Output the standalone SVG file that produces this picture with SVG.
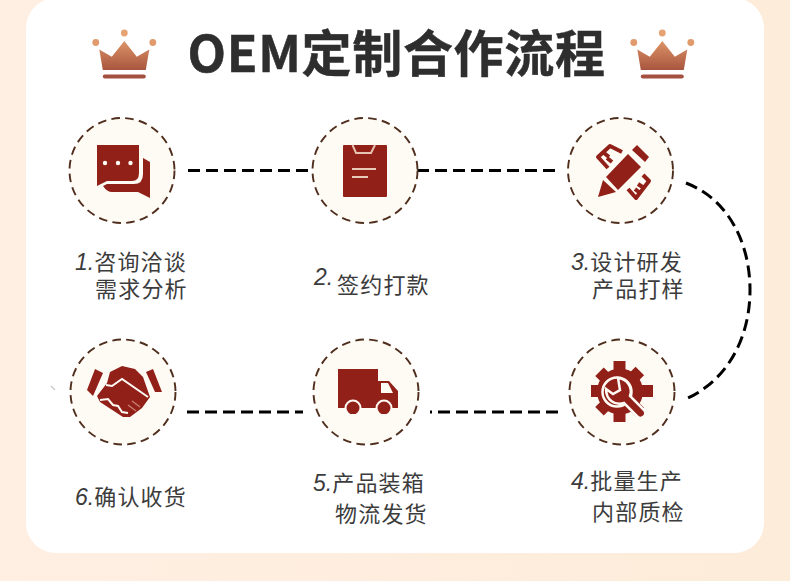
<svg xmlns="http://www.w3.org/2000/svg" width="790" height="581" viewBox="0 0 790 581">
<defs>
<linearGradient id="bg" x1="0" y1="0" x2="1" y2="0"><stop offset="0" stop-color="#ffefe3"/><stop offset="1" stop-color="#fdecd9"/></linearGradient>
<linearGradient id="cr" x1="0" y1="0" x2="0" y2="1"><stop offset="0" stop-color="#dd9467"/><stop offset="1" stop-color="#a8553f"/></linearGradient>
<clipPath id="truckclip"><rect x="330" y="360" width="75" height="54"/></clipPath>
<g id="crown">
<circle cx="0" cy="0" r="3.400" fill="#e5a273"/><circle cx="-28.500" cy="9.500" r="3.400" fill="#e09a6c"/><circle cx="28.500" cy="9.500" r="3.400" fill="#e09a6c"/>
<path d="M0 8 L12.500 23.700 L25 16.500 L21.500 37 H-21.500 L-25 16.500 L-12.500 23.700 Z" fill="url(#cr)"/>
<rect x="-21.500" y="41.500" width="43" height="4" rx="2" fill="#a44f3f"/>
</g>
</defs>
<style>
.c{fill:#fefbf5;stroke:#4f2e1d;stroke-width:1.900;stroke-dasharray:8.600 5.300}
.l{fill:none;stroke:#000;stroke-width:3;stroke-dasharray:12 6}
.i{fill:#912019}
.r{fill:none;stroke:#912019;stroke-width:4;stroke-linejoin:round}
.w{fill:none;stroke:#fefbf5;stroke-width:2}
.t{font-family:"Noto Sans CJK SC","Liberation Sans",sans-serif;font-size:22px;letter-spacing:1.200px;fill:#3c3c3c}
.n{font-family:"Liberation Sans",sans-serif;font-style:italic;font-size:23px;letter-spacing:0}
</style>
<rect width="790" height="581" fill="url(#bg)"/>
<rect x="26" y="-2" width="738" height="555" rx="30" fill="#fff"/>
<path d="M51 386L55 390" stroke="#c8c8c8" stroke-width="1.200"/>
<g id="title">
<use href="#crown" x="124.300" y="33"/>
<use href="#crown" x="662.300" y="33"/>
<text x="187.500" y="72" font-family="'Noto Sans CJK SC',sans-serif" font-weight="700" font-size="50px" letter-spacing="0.700" fill="#2e2e2e" stroke="#2e2e2e" stroke-width="0.500">OEM定制合作流程</text>
</g>
<g id="connectors">
<path class="l" d="M188 170.500H312"/>
<path class="l" d="M417 170.500H555"/>
<path class="l" d="M187 412H303"/>
<path class="l" d="M430 412H558" stroke-dashoffset="10"/>
<path class="l" d="M686 183C730 200 750 245 750 290C750 335 730 378 688 398"/>
</g>
<g id="node1">
<circle class="c" cx="122" cy="170.500" r="52.500"/>
<path class="i" d="M97 145H139V173Q139 181 132 181H107L97 186Z"/>
<path class="i" d="M143 158L150 162V198L138 192H112Q107 192 103 186L107 184H134Q143 184 143 174Z"/>
<g fill="#fefbf5"><circle cx="105" cy="163" r="2.200"/><circle cx="118" cy="163" r="2.200"/><circle cx="130.500" cy="163" r="2.200"/></g>
<text class="t" x="75" y="270"><tspan class="n">1.</tspan>咨询洽谈</text>
<text class="t" x="95" y="297">需求分析</text>
</g>
<g id="node2">
<circle class="c" cx="365" cy="170.500" r="52.500"/>
<rect class="i" x="343" y="145" width="44" height="52" rx="1"/>
<path d="M352.500 145L356 153H371L375 145" fill="none" stroke="#e6c2b2" stroke-width="2"/>
<path d="M352 169H376M352 177H368" stroke="#e8c9b8" stroke-width="2" fill="none"/>
<text class="t" x="314" y="285"><tspan class="n">2.</tspan></text>
<text class="t" x="337" y="293">签约打款</text>
</g>
<g id="node3">
<circle class="c" cx="620.500" cy="170.500" r="52.500"/>
<path class="r" d="M622 152L610 146L598 157L608 168M609 157L604 153M612 162L607 158"/>
<path class="r" d="M643 175L649 181L636 198L628 189M635 189L640 193M638 184L644 188"/>
<path class="i" d="M628 154L641 167L618 190L606 177Z"/>
<path class="i" d="M637 145L649 157L645 162L632 150Z"/>
<path class="i" d="M603 180L616 192L598 197Z"/>
<text class="t" x="571" y="270"><tspan class="n">3.</tspan>设计研发</text>
<text class="t" x="592" y="297">产品打样</text>
</g>
<g id="node4">
<circle class="c" cx="622" cy="392" r="52.500"/>
<g class="i">
<circle cx="620" cy="391.500" r="23"/>
<rect x="613.500" y="361" width="12" height="61"/>
<rect x="591" y="385" width="62" height="12"/>
<rect x="613.500" y="363" width="12" height="57" transform="rotate(45 620 391.500)"/>
<rect x="613.500" y="363" width="12" height="57" transform="rotate(-45 620 391.500)"/>
</g>
<circle cx="617" cy="392" r="14.500" fill="none" stroke="#fefbf5" stroke-width="2.500"/>
<path d="M618 378C627 379 633 387 630 396L644 410C648 415 641 421 637 416L624 403C615 406 606 400 606 389L613 394L620 390Z" class="i" stroke="#fefbf5" stroke-width="2.500"/>
<text class="t" x="571" y="489"><tspan class="n">4.</tspan>批量生产</text>
<text class="t" x="592" y="520">内部质检</text>
</g>
<g id="node5">
<circle class="c" cx="366" cy="392" r="52.500"/>
<path class="i" d="M338 369H378V381H389L398 391V408H338Z"/>
<path d="M381 383H388L393 393H381Z" fill="#fefbf5"/>
<g clip-path="url(#truckclip)">
<circle cx="353" cy="408" r="8.500" fill="#fefbf5"/><circle cx="384" cy="408" r="8.500" fill="#fefbf5"/>
<circle class="i" cx="353" cy="408" r="6.500"/><circle class="i" cx="384" cy="408" r="6.500"/>
</g>
<text class="t" x="313" y="491"><tspan class="n">5.</tspan>产品装箱</text>
<text class="t" x="335" y="522">物流发货</text>
</g>
<g id="node6">
<circle class="c" cx="123" cy="392" r="52.500"/>
<path class="i" d="M95 369L103 373L93 396L87 390Z"/>
<path class="i" d="M153 369L146 372L155 392L162 392Z"/>
<path class="i" d="M110 372L122 366L135 369L143 377L150 397L142 408L130 417L123 417L100 402L97 396L107 383Z"/>
<path d="M106 385L112 386L122 379L148 397M100 400L108 399L113 405L118 406L122 412L128 413" fill="none" stroke="#fefbf5" stroke-width="2"/>
<path d="M132 401L140 407M128 405L136 411" stroke="#c97c6c" stroke-width="1.500"/>
<text class="t" x="75" y="505"><tspan class="n">6.</tspan>确认收货</text>
</g>
</svg>
